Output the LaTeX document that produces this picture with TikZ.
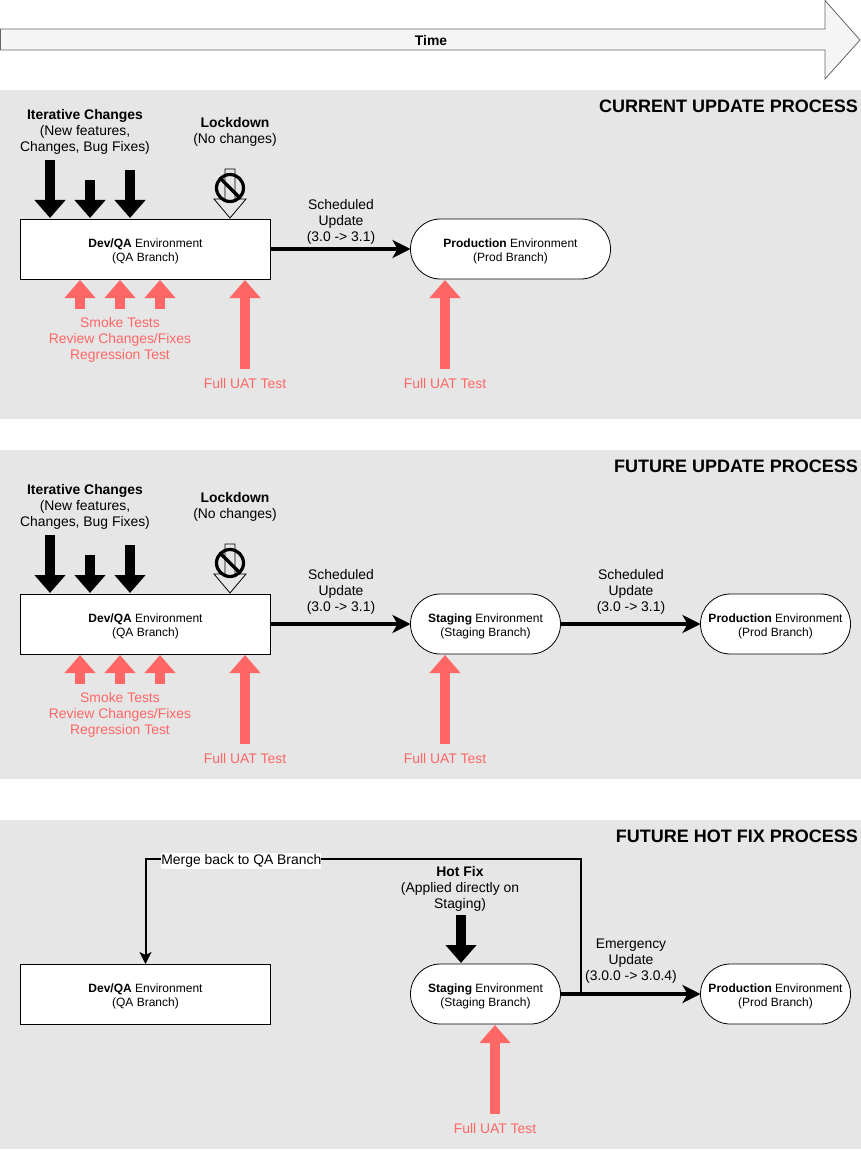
\documentclass[tikz,border=0pt]{standalone}
\usepackage{fontspec}
\usepackage{xcolor}
\usepackage{tikz}
\usetikzlibrary{arrows.meta, positioning}
\setmainfont{Liberation Sans}
\definecolor{panelgrey}{HTML}{E6E6E6}
\definecolor{timefill}{HTML}{F5F5F5}
\definecolor{timeedge}{HTML}{666666}
\definecolor{testred}{HTML}{FF6666}
\newcommand{\envstrut}{\rule{0pt}{13pt}}

\begin{document}
\begin{tikzpicture}[
    x=1pt, y=-1pt,
    panel/.style={rectangle, fill=panelgrey, minimum width=861pt, minimum height=329pt, inner sep=0pt},
    title/.style={anchor=east, inner sep=0pt, yshift=-1pt, font=\fontsize{18}{21}\selectfont\bfseries},
    envbox/.style={rectangle, draw, fill=white, line width=0.8pt, outer sep=0pt, minimum width=250pt, minimum height=60pt, inner sep=0pt, align=center, font=\fontsize{12}{14}\selectfont},
    envpill/.style={envbox, rounded corners=29.9pt, minimum width=150pt},
    lbl/.style={align=center, inner sep=0pt, yshift=-1.5pt, font=\fontsize{13.9}{16}\selectfont},
    testlbl/.style={lbl, text=testred},
    arrow/.style={-{Stealth[length=18pt, width=18pt, inset=5pt]}, line width=3.5pt},
    change/.style={-{Triangle[length=18pt, width=30pt]}, line width=10pt, shorten >=1pt},
    test/.style={change, color=testred},
    merge/.style={-{Stealth[length=12pt, width=12pt, inset=3pt]}, line width=2pt},
    lockdownsign/.pic={
        \draw[line width=0.8pt] (-5,-50) -- (5,-50) -- (5,-20) -- (16,-20) -- (0,-1) -- (-16,-20) -- (-5,-20) -- cycle;
        \draw[line width=3.2pt] (0,-31) circle (13.5pt);
        \draw[line width=3.2pt] (-9.5,-40.5) -- (9.5,-21.5);
    },
]
\useasboundingbox (0,0) rectangle (861,1150);

% Time arrow
\draw[fill=timefill, draw=timeedge, line width=0.8pt] (0.5,29) -- (825,29) -- (825,0.5) -- (860,40) -- (825,79) -- (825,50) -- (0.5,50) -- cycle;
\node[lbl, font=\fontsize{13.9}{16}\selectfont\bfseries] (time) at (431,39) {Time};

% Panels
\node[panel] (panel1) at (430.5,254.5) {};
\node[panel] (panel2) at (430.5,614.5) {};
\node[panel] (panel3) at (430.5,984.5) {};
\node[title] (title1) at (858,105) {CURRENT UPDATE PROCESS};
\node[title] (title2) at (858,465) {FUTURE UPDATE PROCESS};
\node[title] (title3) at (858,835) {FUTURE HOT FIX PROCESS};

% Current update process
\node[envbox] (dev1) at (145.5,249) {\envstrut\textbf{Dev/QA} Environment\\(QA Branch)};
\node[envpill, minimum width=200pt, right=140pt of dev1] (prod1) {\envstrut\textbf{Production} Environment\\(Prod Branch)};
\node[lbl] (iter1) at (85,130) {\textbf{Iterative Changes}\\(New features,\\Changes, Bug Fixes)};
\node[lbl] (lock1) at (235,130) {\textbf{Lockdown}\\(No changes)};
\node[lbl] (sched1) at (341,220) {Scheduled\\Update\\(3.0 -> 3.1)};
\node[testlbl] (smoke1) at (120,338) {Smoke Tests\\Review Changes/Fixes\\Regression Test};
\node[testlbl] (uat1a) at (245,382) {Full UAT Test};
\node[testlbl] (uat1b) at (445,382) {Full UAT Test};
\coordinate (c1a) at (50,160);
\coordinate (c1b) at (90,180);
\coordinate (c1c) at (130,170);
\coordinate (t1a) at (80,309);
\coordinate (t1b) at (120,309);
\coordinate (t1c) at (160,309);
\coordinate (t1d) at (245,369);
\coordinate (t1e) at (445,369);
\coordinate (s1) at (230,219);

\draw[change] (c1a) -- (c1a |- dev1.north);
\draw[change] (c1b) -- (c1b |- dev1.north);
\draw[change] (c1c) -- (c1c |- dev1.north);
\pic at (s1) {lockdownsign};
\draw[test] (t1a) -- (t1a |- dev1.south);
\draw[test] (t1b) -- (t1b |- dev1.south);
\draw[test] (t1c) -- (t1c |- dev1.south);
\draw[test] (t1d) -- (t1d |- dev1.south);
\draw[test] (t1e) -- (t1e |- prod1.south);
\draw[arrow] (dev1) -- (prod1);

% Future update process
\node[envbox] (dev2) at (145.5,624) {\envstrut\textbf{Dev/QA} Environment\\(QA Branch)};
\node[envpill, right=140pt of dev2] (stage2) {\envstrut\textbf{Staging} Environment\\(Staging Branch)};
\node[envpill, right=140pt of stage2] (prod2) {\envstrut\textbf{Production} Environment\\(Prod Branch)};
\node[lbl] (iter2) at (85,505) {\textbf{Iterative Changes}\\(New features,\\Changes, Bug Fixes)};
\node[lbl] (lock2) at (235,505) {\textbf{Lockdown}\\(No changes)};
\node[lbl] (sched2a) at (341,590) {Scheduled\\Update\\(3.0 -> 3.1)};
\node[lbl] (sched2b) at (631,590) {Scheduled\\Update\\(3.0 -> 3.1)};
\node[testlbl] (smoke2) at (120,713) {Smoke Tests\\Review Changes/Fixes\\Regression Test};
\node[testlbl] (uat2a) at (245,757) {Full UAT Test};
\node[testlbl] (uat2b) at (445,757) {Full UAT Test};
\coordinate (c2a) at (50,535);
\coordinate (c2b) at (90,555);
\coordinate (c2c) at (130,545);
\coordinate (t2a) at (80,684);
\coordinate (t2b) at (120,684);
\coordinate (t2c) at (160,684);
\coordinate (t2d) at (245,744);
\coordinate (t2e) at (445,744);
\coordinate (s2) at (230,594);

\draw[change] (c2a) -- (c2a |- dev2.north);
\draw[change] (c2b) -- (c2b |- dev2.north);
\draw[change] (c2c) -- (c2c |- dev2.north);
\pic at (s2) {lockdownsign};
\draw[test] (t2a) -- (t2a |- dev2.south);
\draw[test] (t2b) -- (t2b |- dev2.south);
\draw[test] (t2c) -- (t2c |- dev2.south);
\draw[test] (t2d) -- (t2d |- dev2.south);
\draw[test] (t2e) -- (t2e |- stage2.south);
\draw[arrow] (dev2) -- (stage2);
\draw[arrow] (stage2) -- (prod2);

% Future hot fix process
\node[envbox] (dev3) at (145.5,994) {\envstrut\textbf{Dev/QA} Environment\\(QA Branch)};
\node[envpill, right=140pt of dev3] (stage3) {\envstrut\textbf{Staging} Environment\\(Staging Branch)};
\node[envpill, right=140pt of stage3] (prod3) {\envstrut\textbf{Production} Environment\\(Prod Branch)};
\node[lbl] (hotfix) at (460,887) {\textbf{Hot Fix}\\(Applied directly on\\Staging)};
\node[lbl] (emerg) at (631,960) {Emergency\\Update\\(3.0.0 -> 3.0.4)};
\node[testlbl] (uat3) at (495,1127) {Full UAT Test};
\coordinate (c3) at (461,915);
\coordinate (t3) at (495,1114);
\coordinate (mergefrom) at (581,994);
\coordinate (mergecorner) at (581,859);
\coordinate (mergetop) at (145.5,859);

\draw[change] (c3) -- (c3 |- stage3.north);
\draw[test] (t3) -- (t3 |- stage3.south);
\draw[arrow] (stage3) -- (prod3);
\draw[merge] (mergefrom) -- (mergecorner) -- node[lbl, pos=0.78, fill=white, inner sep=0pt, yshift=-0.5pt, minimum height=16pt] (mergelbl) {Merge back to QA Branch} (mergetop) -- (dev3);

\end{tikzpicture}
\end{document}
